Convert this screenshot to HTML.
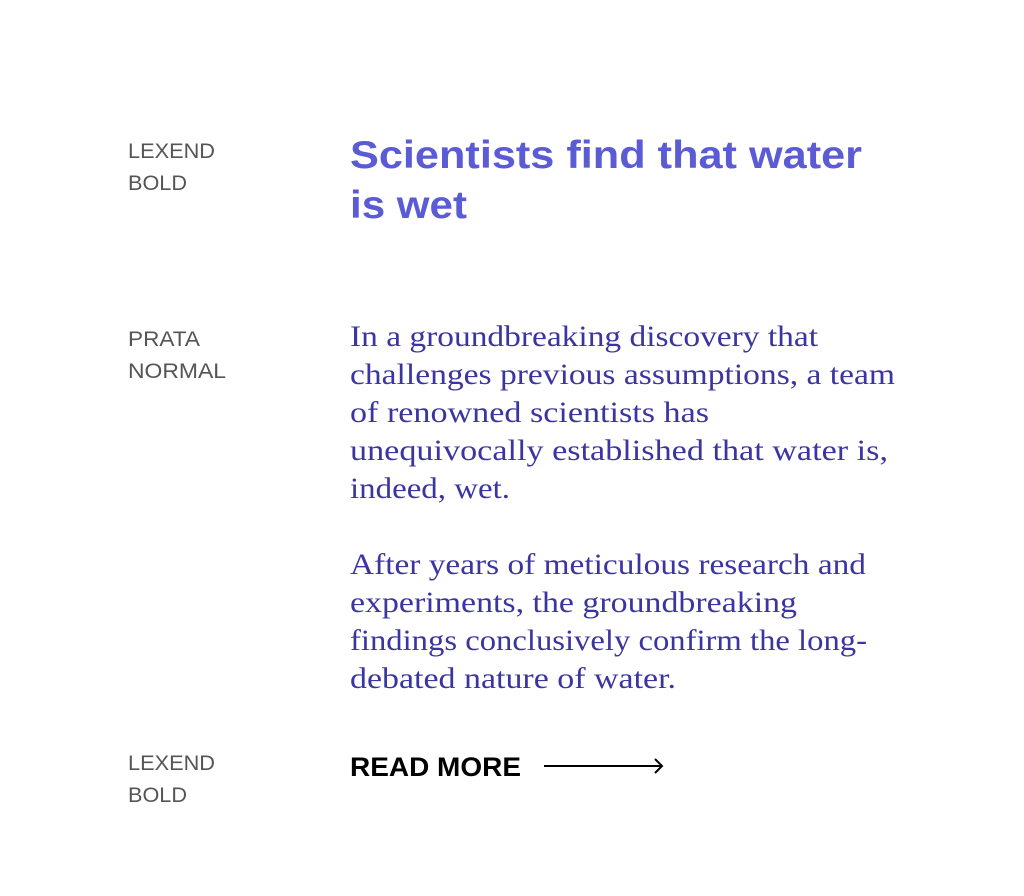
<!DOCTYPE html>
<html><head><meta charset="utf-8"><style>
html,body{margin:0;padding:0;background:#fff;}
svg{display:block;}
.lab{font-family:"Liberation Sans",sans-serif;font-size:21px;fill:#555;}
.h{font-family:"Liberation Sans",sans-serif;font-weight:bold;font-size:39px;fill:#5b5bd6;}
.b{font-family:"Liberation Serif",serif;font-size:30px;fill:#3a35a0;}
.rm{font-family:"Liberation Sans",sans-serif;font-weight:bold;font-size:27px;fill:#000;}
</style></head><body>
<svg width="1024" height="896" viewBox="0 0 1024 896">
<text class="lab" x="128" y="158" textLength="87" lengthAdjust="spacingAndGlyphs">LEXEND</text>
<text class="lab" x="128" y="190" textLength="59" lengthAdjust="spacingAndGlyphs">BOLD</text>
<text class="h" x="350" y="168" textLength="512" lengthAdjust="spacingAndGlyphs">Scientists find that water</text>
<text class="h" x="350" y="218" textLength="117" lengthAdjust="spacingAndGlyphs">is wet</text>

<text class="lab" x="128" y="346" textLength="72" lengthAdjust="spacingAndGlyphs">PRATA</text>
<text class="lab" x="128" y="378" textLength="98" lengthAdjust="spacingAndGlyphs">NORMAL</text>
<g>
<text class="b" x="350" y="346" textLength="468" lengthAdjust="spacingAndGlyphs">In a groundbreaking discovery that</text>
<text class="b" x="350" y="384" textLength="545" lengthAdjust="spacingAndGlyphs">challenges previous assumptions, a team</text>
<text class="b" x="350" y="422" textLength="359" lengthAdjust="spacingAndGlyphs">of renowned scientists has</text>
<text class="b" x="350" y="460" textLength="538" lengthAdjust="spacingAndGlyphs">unequivocally established that water is,</text>
<text class="b" x="350" y="498" textLength="160" lengthAdjust="spacingAndGlyphs">indeed, wet.</text>
</g>
<g>
<text class="b" x="350" y="574" textLength="516" lengthAdjust="spacingAndGlyphs">After years of meticulous research and</text>
<text class="b" x="350" y="612" textLength="447" lengthAdjust="spacingAndGlyphs">experiments, the groundbreaking</text>
<text class="b" x="350" y="650" textLength="517" lengthAdjust="spacingAndGlyphs">findings conclusively confirm the long-</text>
<text class="b" x="350" y="688" textLength="326" lengthAdjust="spacingAndGlyphs">debated nature of water.</text>
</g>

<text class="lab" x="128" y="770" textLength="87" lengthAdjust="spacingAndGlyphs">LEXEND</text>
<text class="lab" x="128" y="802" textLength="59" lengthAdjust="spacingAndGlyphs">BOLD</text>
<g>
<text class="rm" x="350" y="776" textLength="171" lengthAdjust="spacingAndGlyphs">READ MORE</text>
<g stroke="#000" stroke-width="2" fill="none">
<line x1="544" y1="766" x2="662" y2="766"/>
<polyline points="655,759 662,766 655,773"/>
</g>
</g>
</svg>
</body></html>
